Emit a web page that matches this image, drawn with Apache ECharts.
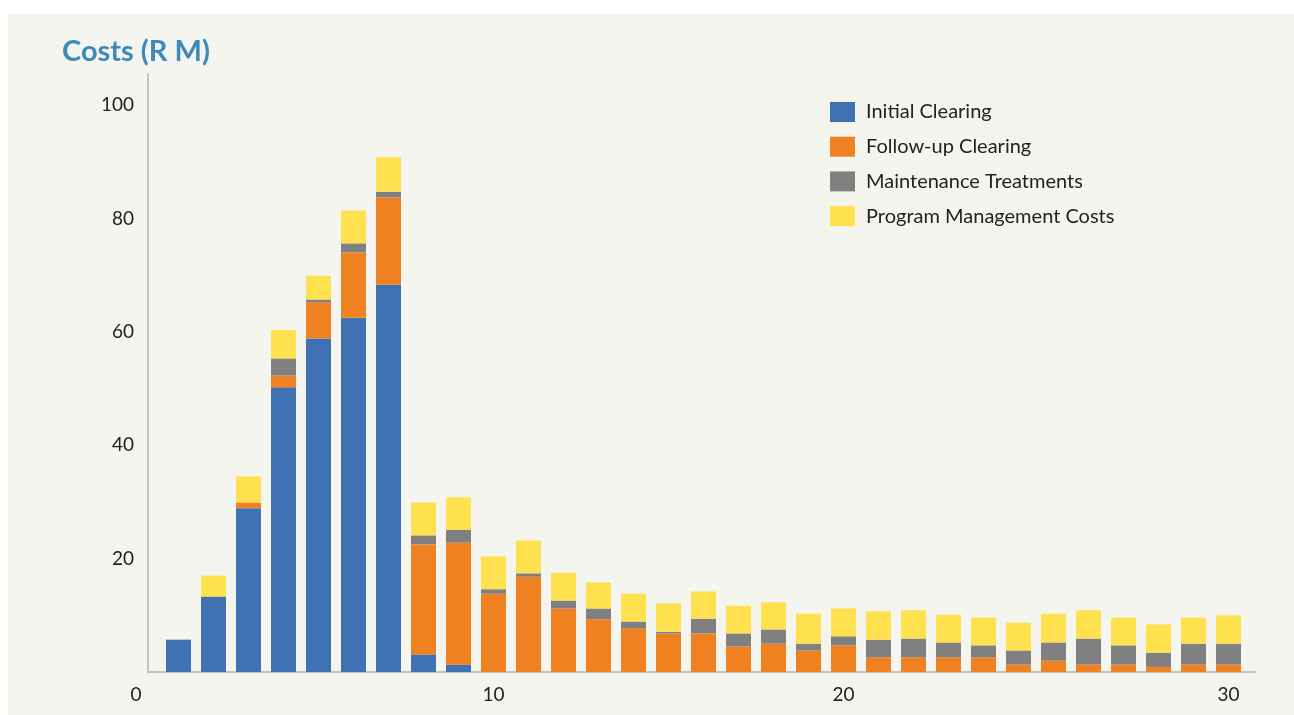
<!DOCTYPE html>
<html>
<head>
<meta charset="utf-8">
<script src="https://cdn.jsdelivr.net/npm/echarts@6/dist/echarts.min.js"></script>
<style>
  html, body { margin: 0; padding: 0; background: #ffffff; width: 1294px; height: 715px; overflow: hidden; }
  #chart { position: absolute; left: 8px; top: 14px; width: 1286px; height: 701px; background: #f5f5f0; }
</style>
</head>
<body>
<div id="chart"></div>
<script>
// ---- data ----
const years = ['1','2','3','4','5','6','7','8','9','10','11','12','13','14','15','16','17','18','19','20','21','22','23','24','25','26','27','28','29','30','31'];
const initialClearing = [5.7,13.3,28.9,50.2,58.8,62.5,68.3,3.1,1.3,0,0,0,0,0,0,0,0,0,0,0,0,0,0,0,0,0,0,0,0,0,0];
const followUpClearing = [0,0,1.0,2.1,6.4,11.5,15.4,19.4,21.5,13.8,16.8,11.2,9.3,7.7,6.8,6.8,4.5,5.0,3.8,4.7,2.6,2.6,2.6,2.6,1.3,2.0,1.3,1.3,0.9,1.3,1.3];
const maintenanceTreatments = [0,0,0,3.0,0.5,1.6,1.0,1.6,2.3,0.8,0.6,1.4,1.9,1.2,0.3,2.6,2.3,2.5,1.2,1.6,3.1,3.3,2.6,2.1,2.5,3.2,4.6,3.4,2.5,3.7,3.7];
const programManagement = [0,3.7,4.6,5.0,4.2,5.8,6.1,5.8,5.7,5.8,5.8,4.9,4.6,4.9,5.0,4.8,4.9,4.8,5.3,4.9,5.0,5.0,4.9,4.9,4.9,5.1,5.0,4.9,5.0,4.6,5.0];
const seriesNames = ['Initial Clearing','Follow-up Clearing','Maintenance Treatments','Program Management Costs'];
const xTickLabels = ['0','10','20','30'];
const xTickAt = [0.13, 10, 20, 31];
const yTicks = [20,40,60,80,100];

const colors = ['#3e72b3','#f08120','#808080','#ffe150'];
const font = 'Lato, "Open Sans", sans-serif';
const seriesData = [initialClearing, followUpClearing, maintenanceTreatments, programManagement];
const yMax = 105.47;

const chart = echarts.init(document.getElementById('chart'), null, {renderer: 'canvas'});
chart.setOption({
  animation: false,
  backgroundColor: '#f5f5f0',
  title: {
    text: 'Costs (R M)',
    left: 54, top: 23, padding: 0,
    textStyle: { color: '#3d8ab8', fontSize: 29, fontWeight: 'bold', fontFamily: font }
  },
  legend: {
    orient: 'vertical',
    left: 822, top: 88, padding: 0,
    itemWidth: 25, itemHeight: 20, itemGap: 14.7,
    icon: 'rect',
    data: seriesNames,
    textStyle: { color: '#222', fontSize: 20, fontFamily: font, padding: [0,0,0,6] }
  },
  grid: [
    { left: 153, top: 60, right: 48, bottom: 43 },   // bars
    { left: 140, top: 60, right: 39, bottom: 43 }    // axes
  ],
  xAxis: [
    {
      gridIndex: 0, type: 'category', data: years,
      axisLine: { show: false }, axisTick: { show: false }, axisLabel: { show: false }, splitLine: { show: false }
    },
    {
      gridIndex: 1, type: 'value',
      min: xTickAt[0], max: 31.76,
      axisLine: { show: true, lineStyle: { color: '#c3c3c0', width: 2 } },
      axisTick: { show: false },
      splitLine: { show: false },
      axisLabel: {
        customValues: xTickAt,
        margin: 13,
        color: '#222', fontSize: 19, fontFamily: font,
        formatter: function (v) {
          const i = xTickAt.findIndex(t => Math.abs(t - v) < 1e-6);
          if (i < 0) return '';
          return i === 0 ? '{s|' + xTickLabels[0] + '}' : xTickLabels[i];
        },
        rich: { s: { padding: [0, 24, 0, 0], color: '#222', fontSize: 19, fontFamily: font } }
      }
    }
  ],
  yAxis: [
    {
      gridIndex: 0, type: 'value', min: 0, max: yMax,
      axisLine: { show: false }, axisTick: { show: false }, axisLabel: { show: false }, splitLine: { show: false }
    },
    {
      gridIndex: 1, type: 'value',
      min: 0, max: yMax, interval: 20,
      axisLine: { show: true, lineStyle: { color: '#c3c3c0', width: 2 } },
      axisTick: { show: false },
      splitLine: { show: false },
      axisLabel: {
        margin: 14, color: '#222', fontSize: 19, fontFamily: font,
        showMaxLabel: false, showMinLabel: false,
        formatter: function (v) { return yTicks.indexOf(v) >= 0 ? String(v) : ''; }
      }
    }
  ],
  series: seriesNames.map((name, s) => ({
    name: name,
    type: 'bar',
    stack: 'total',
    xAxisIndex: 0, yAxisIndex: 0,
    barWidth: 25,
    itemStyle: { color: colors[s] },
    data: seriesData[s]
  }))
});
</script>
</body>
</html>
